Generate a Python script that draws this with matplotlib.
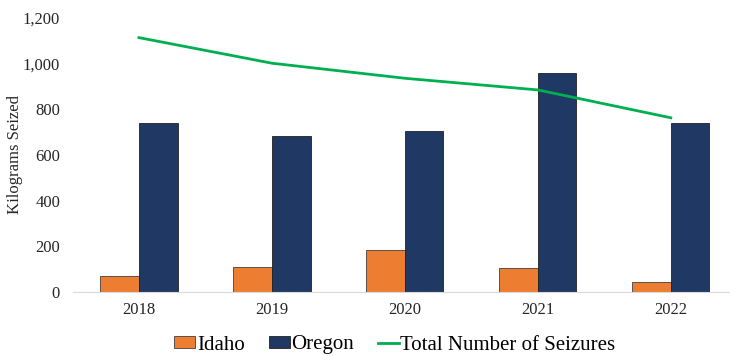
import numpy as np
import matplotlib.pyplot as plt
from matplotlib.ticker import FuncFormatter

plt.rcParams['font.family'] = ['Liberation Serif', 'DejaVu Serif']

years = ['2018', '2019', '2020', '2021', '2022']
idaho = [71, 111, 184, 105, 44]
oregon = [739, 685, 707, 961, 739]
total_seizures = [1114, 1002, 936, 885, 763]

fig = plt.figure(figsize=(7.3, 3.56), dpi=100)
ax = fig.add_axes([72.5 / 730, 64 / 356, (730 - 72.5) / 730, (292 - 18) / 356])

x = np.arange(len(years))
w = 0.29
b1 = ax.bar(x - w / 2, idaho, w, color='#ED7D31', edgecolor='#404040', linewidth=0.6, label='Idaho')
b2 = ax.bar(x + w / 2, oregon, w, color='#203864', edgecolor='#202020', linewidth=0.6, label='Oregon')
ln, = ax.plot(x, total_seizures, color='#00B050', linewidth=2, label='Total Number of Seizures')

ax.set_ylim(0, 1200)
ax.set_xlim(-0.5, 4.445)
ax.set_yticks(range(0, 1201, 200))
ax.yaxis.set_major_formatter(FuncFormatter(lambda v, p: f'{int(v):,}'))
ax.set_xticks(x)
ax.set_xticklabels(years)
ax.tick_params(axis='both', length=0, labelsize=12, colors='#262626')
ax.tick_params(axis='x', pad=7)
ax.tick_params(axis='y', pad=9)
ax.set_ylabel('Kilograms Seized', fontsize=12, color='#262626')
ax.yaxis.set_label_coords(-(72.5 - 23) / 657.5, 0.5)

for s in ['top', 'right', 'left']:
    ax.spines[s].set_visible(False)
ax.spines['bottom'].set_color('#D9D9D9')

fig.legend(handles=[b1, b2, ln], loc='center', bbox_to_anchor=(395 / 730, 1 - 345 / 356), ncol=3,
           frameon=False, fontsize=15, handlelength=1.0, handleheight=0.55, handletextpad=0.08,
           columnspacing=1.15, borderaxespad=0, borderpad=0)

fig.savefig('out.png', dpi=100)
